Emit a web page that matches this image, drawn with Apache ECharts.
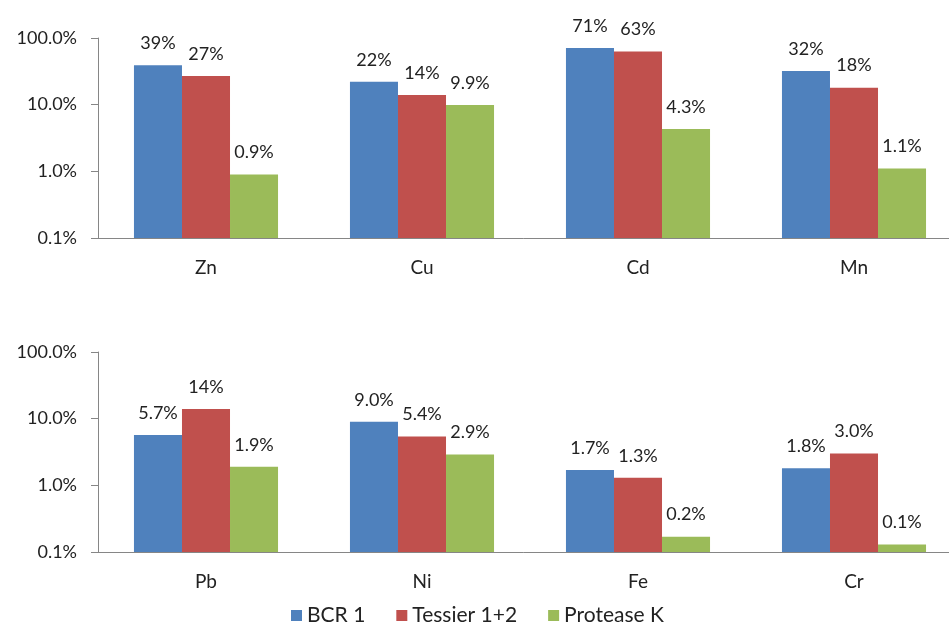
<!DOCTYPE html>
<html>
<head>
<meta charset="utf-8">
<script src="https://cdn.jsdelivr.net/npm/echarts@6/dist/echarts.min.js"></script>
<style>
  html, body { margin: 0; padding: 0; background: #ffffff; }
  #chart { width: 949px; height: 628px; }
</style>
</head>
<body>
<div id="chart"></div>
<script>
// Extraction yield (% of total metal) per method, two panels of four metals
const seriesNames = ['BCR 1', 'Tessier 1+2', 'Protease K'];
const topMetals = ['Zn', 'Cu', 'Cd', 'Mn'];
const bottomMetals = ['Pb', 'Ni', 'Fe', 'Cr'];

const bcrTop = [39, 22, 71, 32];
const tessierTop = [27, 14, 63, 18];
const proteaseTop = [0.9, 9.9, 4.3, 1.1];

const bcrBottom = [5.7, 9.0, 1.7, 1.8];
const tessierBottom = [14, 5.4, 1.3, 3.0];
const proteaseBottom = [1.9, 2.9, 0.17, 0.13];

const yTickValues = [0.1, 1, 10, 100];

const colors = ['#4F81BD', '#C0504D', '#9BBB59'];
const fontFamily = 'Lato, "Open Sans", sans-serif';
const axisGray = '#868686';
const textColor = '#222222';

function pctLabel(v) {
  return v >= 10 ? Math.round(v) + '%' : v.toFixed(1) + '%';
}

// The plot area runs a little past the right edge of the canvas
function makeGrid(top) {
  return { left: 98, top: top, width: 864, height: 200, containLabel: false, outerBoundsMode: 'none' };
}

function makeXAxis(gridIndex, cats) {
  return {
    type: 'category',
    gridIndex: gridIndex,
    data: cats,
    boundaryGap: true,
    axisTick: { show: false },
    axisLine: { show: true, lineStyle: { color: axisGray, width: 1 } },
    axisLabel: { color: textColor, fontSize: 19, fontFamily: fontFamily, margin: 20 }
  };
}

function makeYAxis(gridIndex) {
  return {
    type: 'log',
    logBase: 10,
    gridIndex: gridIndex,
    min: yTickValues[0],
    max: yTickValues[yTickValues.length - 1],
    startValue: yTickValues[0],
    splitLine: { show: false },
    axisLine: { show: true, lineStyle: { color: axisGray, width: 1 } },
    axisTick: { show: true, length: 7, lineStyle: { color: axisGray } },
    axisLabel: {
      color: textColor,
      fontSize: 18,
      fontFamily: fontFamily,
      margin: 21,
      formatter: function (v) { return Number(v).toFixed(1) + '%'; }
    }
  };
}

function makeBar(name, data, axisIndex, color) {
  return {
    type: 'bar',
    name: name,
    xAxisIndex: axisIndex,
    yAxisIndex: axisIndex,
    data: data,
    barGap: '0%',
    barCategoryGap: '33.3%',
    itemStyle: { color: color },
    label: {
      show: true,
      position: 'top',
      distance: 13,
      color: textColor,
      fontSize: 18,
      fontFamily: fontFamily,
      formatter: function (p) { return pctLabel(p.value); }
    },
    emphasis: { disabled: true },
    animation: false
  };
}

const chart = echarts.init(document.getElementById('chart'), null, { renderer: 'canvas' });

chart.setOption({
  backgroundColor: '#ffffff',
  animation: false,
  grid: [makeGrid(38), makeGrid(352)],
  xAxis: [makeXAxis(0, topMetals), makeXAxis(1, bottomMetals)],
  yAxis: [makeYAxis(0), makeYAxis(1)],
  legend: {
    data: seriesNames,
    left: 291,
    top: 605,
    padding: 0,
    icon: 'rect',
    itemWidth: 11,
    itemHeight: 11,
    itemGap: 31,
    textStyle: { color: textColor, fontSize: 21, fontFamily: fontFamily }
  },
  series: [
    makeBar(seriesNames[0], bcrTop, 0, colors[0]),
    makeBar(seriesNames[1], tessierTop, 0, colors[1]),
    makeBar(seriesNames[2], proteaseTop, 0, colors[2]),
    makeBar(seriesNames[0], bcrBottom, 1, colors[0]),
    makeBar(seriesNames[1], tessierBottom, 1, colors[1]),
    makeBar(seriesNames[2], proteaseBottom, 1, colors[2])
  ]
});
</script>
</body>
</html>
